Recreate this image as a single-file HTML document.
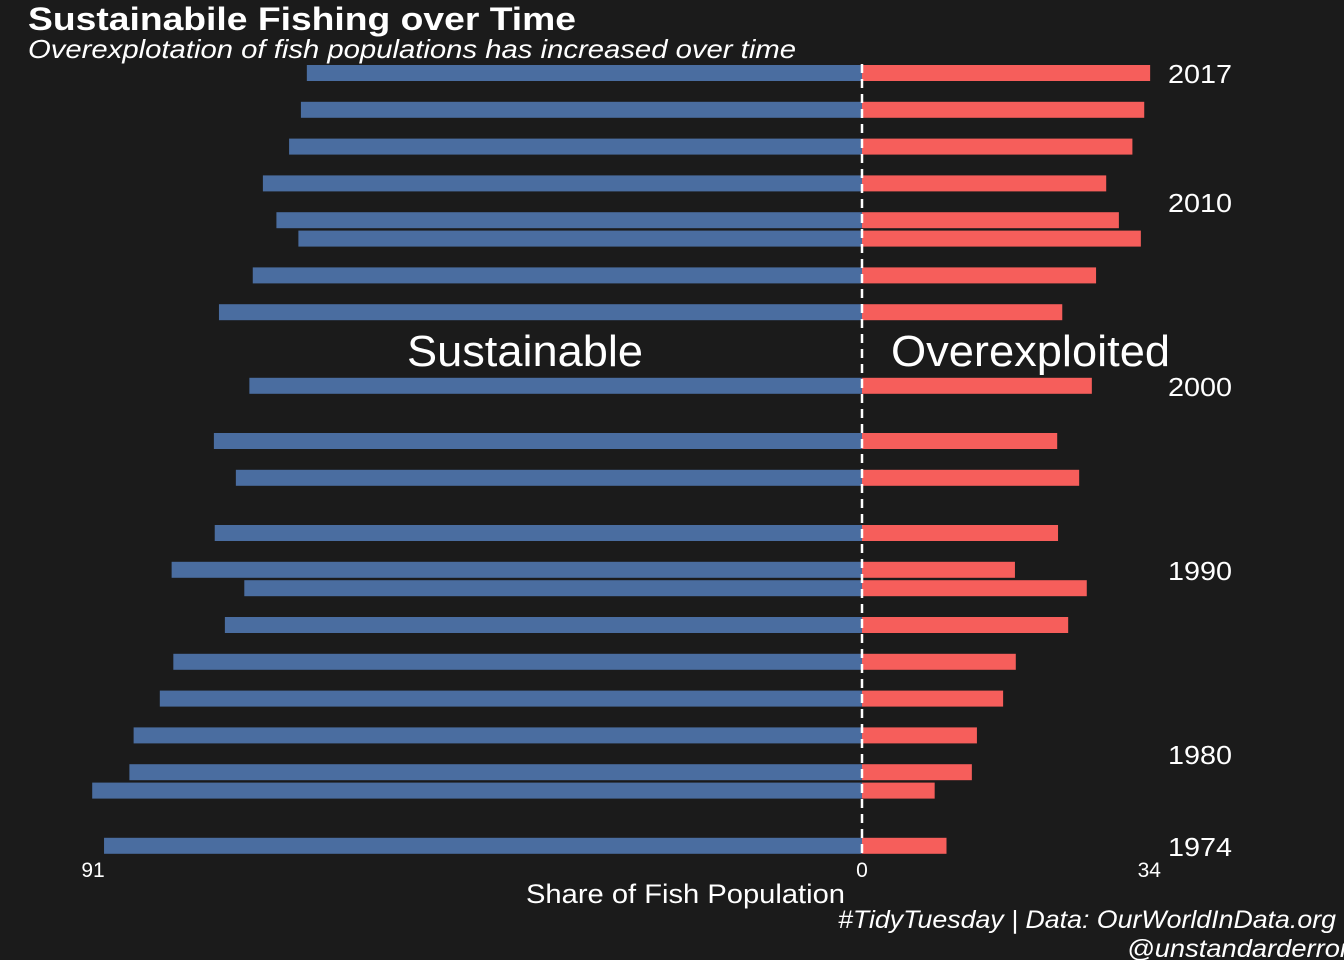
<!DOCTYPE html>
<html><head><meta charset="utf-8"><style>
html,body{margin:0;padding:0;background:#1b1b1b;}
svg{display:block;font-family:"Liberation Sans",Arial,sans-serif;}
</style></head><body>
<svg id="chart" width="1344" height="960" viewBox="0 0 1344 960">
<rect width="1344" height="960" fill="#1b1b1b"/>
<text x="28" y="30" fill="#fff" font-size="32" font-weight="bold" textLength="548" lengthAdjust="spacingAndGlyphs">Sustainabile Fishing over Time</text>
<text x="28" y="58" fill="#fff" font-size="26" font-style="italic" textLength="768" lengthAdjust="spacingAndGlyphs">Overexplotation of fish populations has increased over time</text>
<g id="bars"></g>
<line x1="862" y1="64" x2="862" y2="856" stroke="#fff" stroke-width="2.5" stroke-dasharray="9,6"/>
<text x="407" y="366" fill="#fff" font-size="44" textLength="236" lengthAdjust="spacingAndGlyphs">Sustainable</text>
<text x="891" y="366" fill="#fff" font-size="44" textLength="279" lengthAdjust="spacingAndGlyphs">Overexploited</text>
<g id="ylabels"></g>
<g id="xlabels"></g>
<text x="526" y="903" fill="#fff" font-size="27" textLength="319" lengthAdjust="spacingAndGlyphs">Share of Fish Population</text>
<text x="838" y="928" fill="#fff" font-size="25" font-style="italic" textLength="498" lengthAdjust="spacingAndGlyphs">#TidyTuesday | Data: OurWorldInData.org</text>
<text x="1127" y="957" fill="#fff" font-size="25" font-style="italic" textLength="222" lengthAdjust="spacingAndGlyphs">@unstandarderror</text>
</svg>
<script>
const years = [2017,2015,2013,2011,2009,2008,2006,2004,2000,1997,1995,1992,1990,1989,1987,1985,1983,1981,1979,1978,1975];
const sustainable = [65.7,66.4,67.8,70.9,69.3,66.7,72.1,76.1,72.5,76.7,74.1,76.6,81.7,73.1,75.4,81.5,83.1,86.2,86.7,91.1,89.7];
const overexploited = [34.1,33.4,32.0,28.9,30.4,33.0,27.7,23.7,27.2,23.1,25.7,23.2,18.1,26.6,24.4,18.2,16.7,13.6,13.0,8.6,10.0];
const yearTickValues = [2017,2010,2000,1990,1980,1975];
const yearTickLabels = ["2017","2010","2000","1990","1980","1974"];
const xTickValues = [-91,0,34];
const xTickLabels = ["91","0","34"];

const NS="http://www.w3.org/2000/svg";
const x0=862, pxPer=8.45;
function xs(v){return x0+v*pxPer;}
function ys(yr){return 73+(2017-yr)*18.4;}
const bars=document.getElementById('bars');
years.forEach((yr,i)=>{
  const cy=ys(yr);
  const b=document.createElementNS(NS,'rect');
  b.setAttribute('x',xs(-sustainable[i]));b.setAttribute('y',cy-8);
  b.setAttribute('width',sustainable[i]*pxPer);b.setAttribute('height',16);
  b.setAttribute('fill','#4a6da0');
  
  
  bars.appendChild(b);
  const r=document.createElementNS(NS,'rect');
  r.setAttribute('x',x0);r.setAttribute('y',cy-8);
  r.setAttribute('width',overexploited[i]*pxPer);r.setAttribute('height',16);
  r.setAttribute('fill','#f65e5b');
  
  
  bars.appendChild(r);
});
const yl=document.getElementById('ylabels');
yearTickValues.forEach((v,i)=>{
  const t=document.createElementNS(NS,'text');
  t.setAttribute('x',1168);t.setAttribute('y',ys(v)+10);
  t.setAttribute('fill','#fff');t.setAttribute('font-size','26');
  t.setAttribute('textLength','64');t.setAttribute('lengthAdjust','spacingAndGlyphs');
  t.textContent=yearTickLabels[i];
  
  
  yl.appendChild(t);
});
const xl=document.getElementById('xlabels');
xTickValues.forEach((v,i)=>{
  const t=document.createElementNS(NS,'text');
  t.setAttribute('x',xs(v));t.setAttribute('y',877);
  t.setAttribute('fill','#fff');t.setAttribute('font-size','21');
  t.setAttribute('text-anchor','middle');
  t.textContent=xTickLabels[i];
  
  
  xl.appendChild(t);
});
</script>
</body></html>
